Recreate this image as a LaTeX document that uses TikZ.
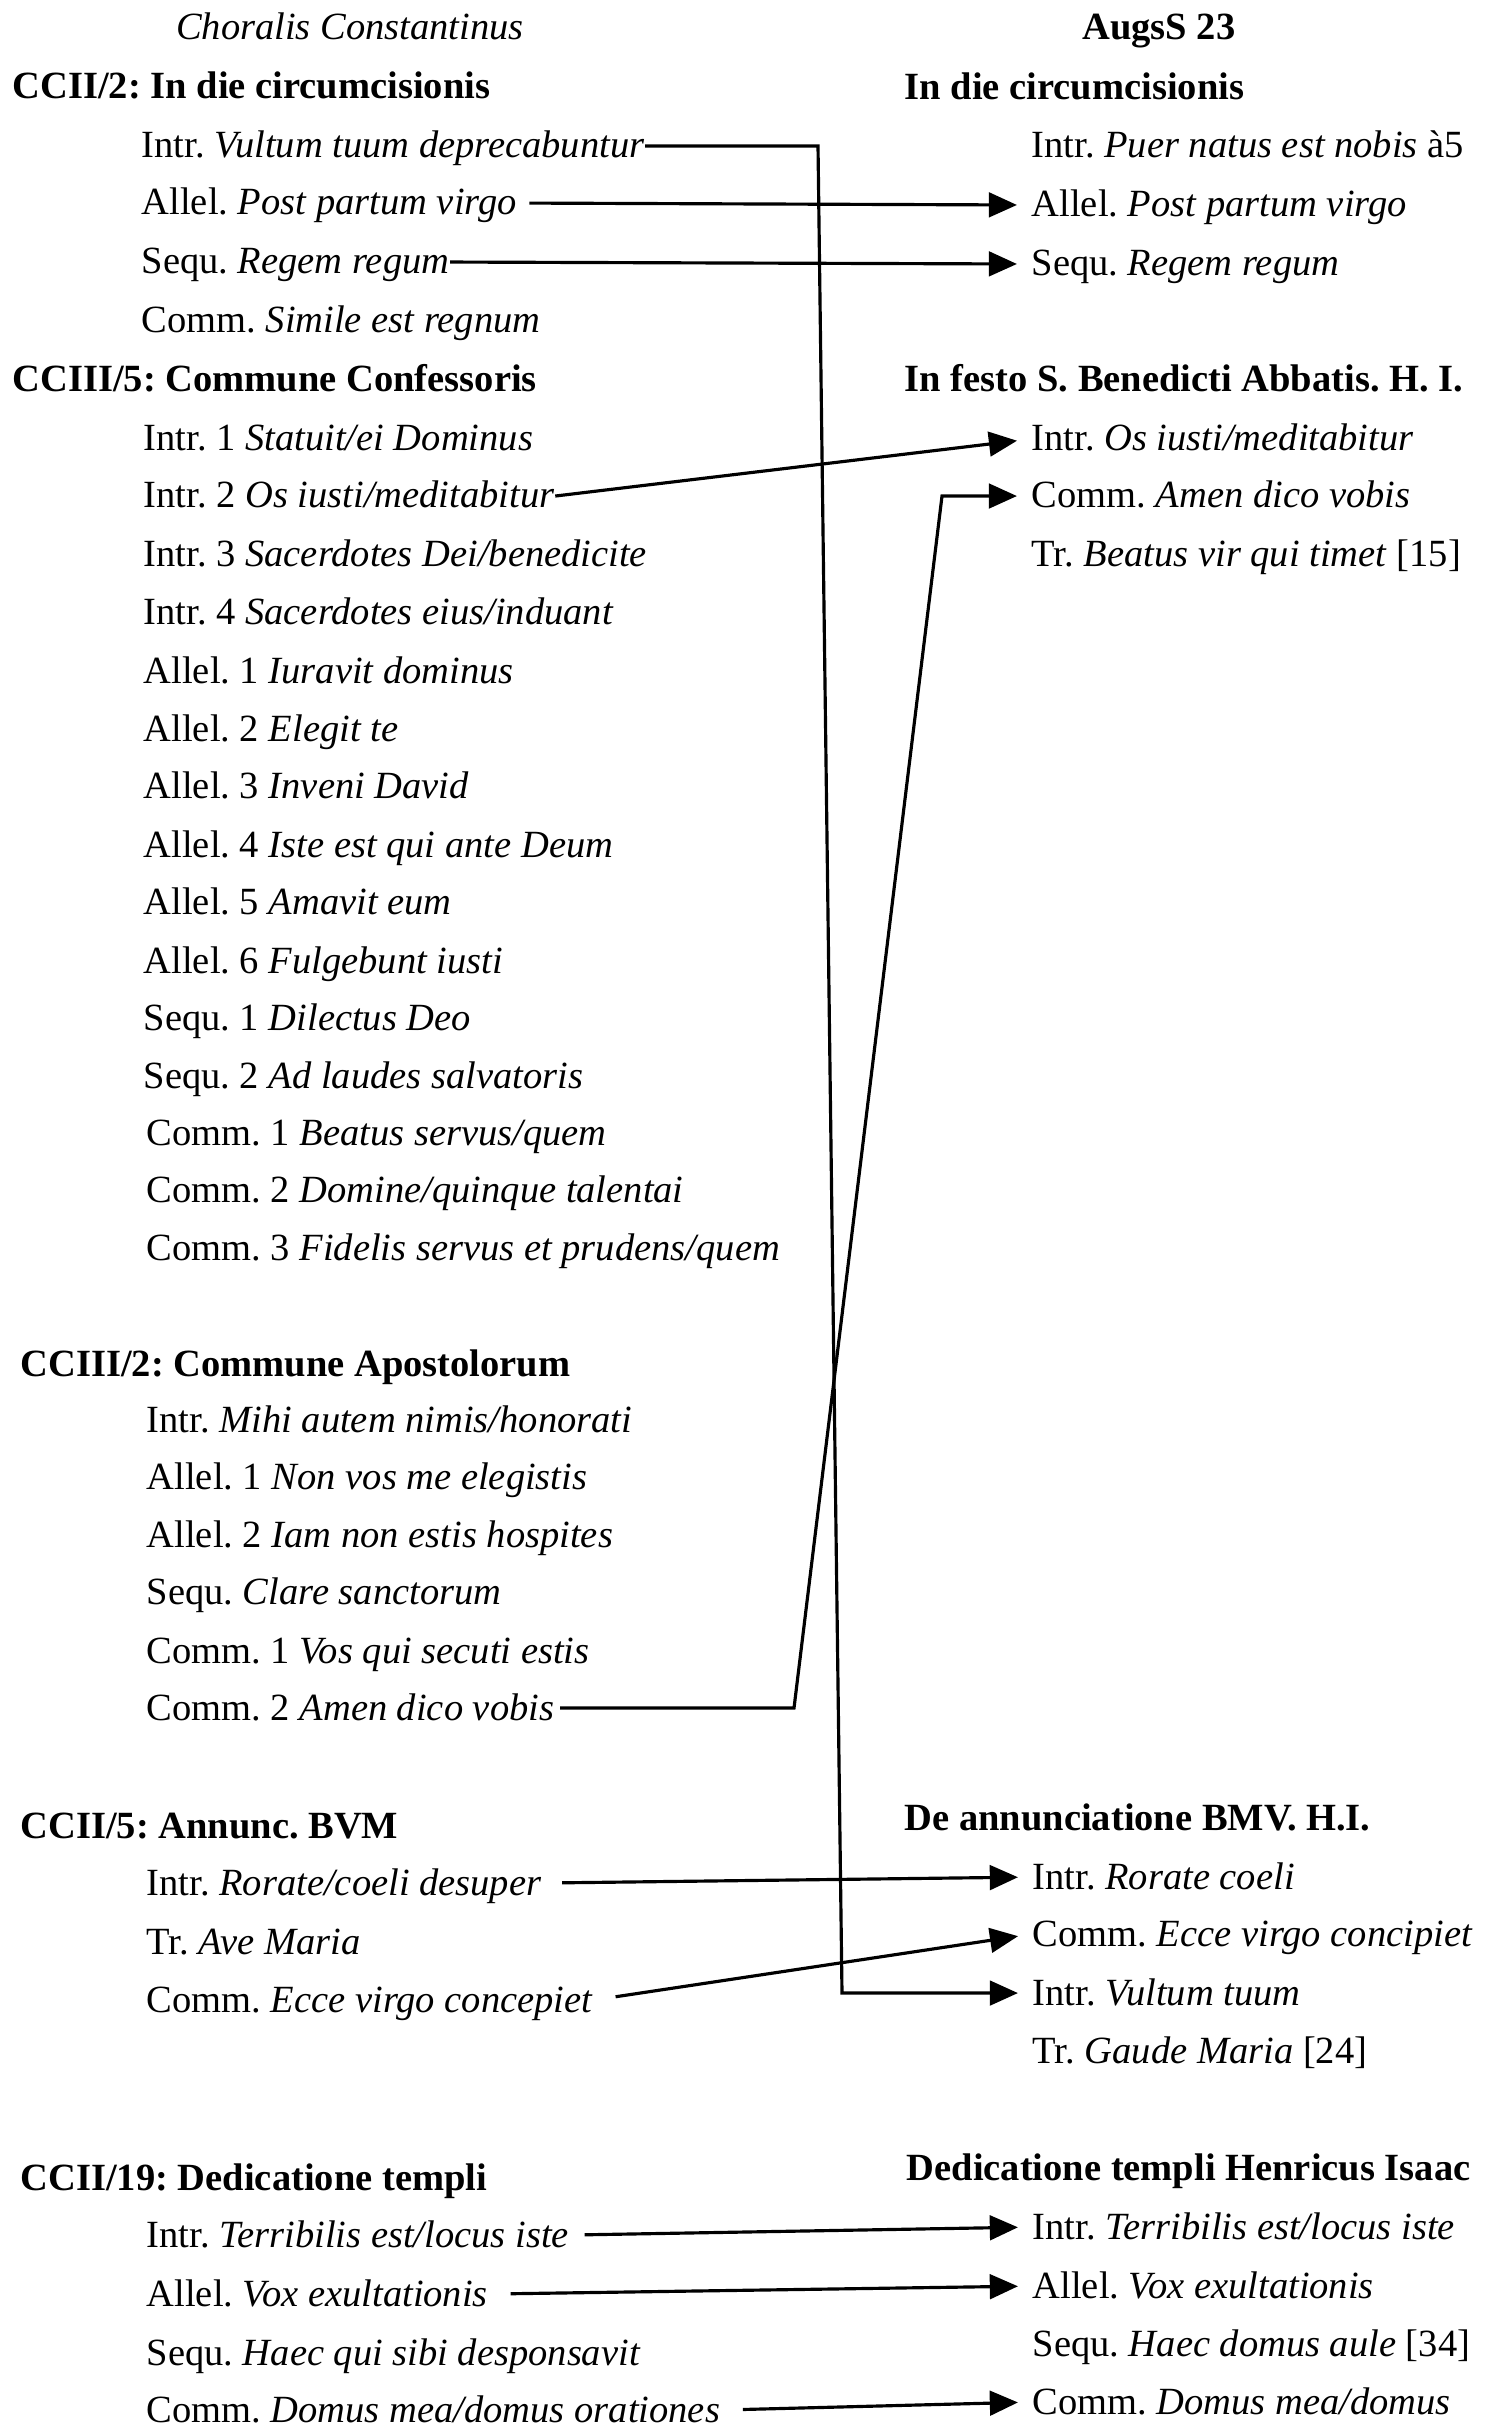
\documentclass[tikz,border=0pt]{standalone}
\usepackage{fontspec}
\setmainfont{Liberation Serif}
\usetikzlibrary{arrows.meta, positioning, calc}
\frenchspacing

\begin{document}
\begin{tikzpicture}[x=0.01cm, y=-0.01cm,
    every node/.style={font=\fontsize{10.95pt}{13pt}\selectfont, inner sep=0pt, text height=6.8pt, text depth=0pt, anchor=base west},
    sec/.style={font=\fontsize{10.95pt}{13pt}\selectfont\bfseries},
    link/.style={line width=0.9pt, -{Triangle[length=8pt, width=7pt]}, shorten >=4pt}]
    \useasboundingbox (0,0) rectangle (1488,2431);
    % Column heads
    \node[anchor=base] (lhead) at (350,40) {\textit{Choralis Constantinus}};
    \node[sec, anchor=base] (rhead) at (1159,40) {AugsS 23};
    % CCII/2
    \node[sec] (lsecA) at (12,99) {CCII/2: In die circumcisionis};
    \node (la1) at (141,158) {Intr. \textit{Vultum tuum deprecabuntur}};
    \node (la2) at (141,215) {Allel. \textit{Post partum virgo}};
    \node (la3) at (141,274) {Sequ. \textit{Regem regum}};
    \node (la4) at (141,333) {Comm. \textit{Simile est regnum}};
    % CCIII/5
    \node[sec] (lsecB) at (12,392) {CCIII/5: Commune Confessoris};
    \node (lb1) at (143,451) {Intr. 1 \textit{Statuit/ei Dominus}};
    \node (lb2) at (143,508) {Intr. 2 \textit{Os iusti/meditabitur}};
    \node (lb3) at (143,567) {Intr. 3 \textit{Sacerdotes Dei/benedicite}};
    \node (lb4) at (143,624) {Intr. 4 \textit{Sacerdotes eius/induant}};
    \node (lb5) at (143,683) {Allel. 1 \textit{Iuravit dominus}};
    \node (lb6) at (143,741) {Allel. 2 \textit{Elegit te}};
    \node (lb7) at (143,798) {Allel. 3 \textit{Inveni David}};
    \node (lb8) at (143,857) {Allel. 4 \textit{Iste est qui ante Deum}};
    \node (lb9) at (143,914) {Allel. 5 \textit{Amavit eum}};
    \node (lb10) at (143,973) {Allel. 6 \textit{Fulgebunt iusti}};
    \node (lb11) at (143,1030) {Sequ. 1 \textit{Dilectus Deo}};
    \node (lb12) at (143,1088) {Sequ. 2 \textit{Ad laudes salvatoris}};
    \node (lb13) at (146,1145) {Comm. 1 \textit{Beatus servus/quem}};
    \node (lb14) at (146,1202) {Comm. 2 \textit{Domine/quinque talentai}};
    \node (lb15) at (146,1260) {Comm. 3 \textit{Fidelis servus et prudens/quem}};
    % CCIII/2
    \node[sec] (lsecC) at (20,1376) {CCIII/2: Commune Apostolorum};
    \node (lc1) at (146,1432) {Intr. \textit{Mihi autem nimis/honorati}};
    \node (lc2) at (146,1489) {Allel. 1 \textit{Non vos me elegistis}};
    \node (lc3) at (146,1547) {Allel. 2 \textit{Iam non estis hospites}};
    \node (lc4) at (146,1604) {Sequ. \textit{Clare sanctorum}};
    \node (lc5) at (146,1663) {Comm. 1 \textit{Vos qui secuti estis}};
    \node (lc6) at (146,1720) {Comm. 2 \textit{Amen dico vobis}};
    % CCII/5
    \node[sec] (lsecD) at (20,1838) {CCII/5: Annunc. BVM};
    \node (ld1) at (146,1895) {Intr. \textit{Rorate/coeli desuper}};
    \node (ld2) at (146,1954) {Tr. \textit{Ave Maria}};
    \node (ld3) at (146,2012) {Comm. \textit{Ecce virgo concepiet}};
    % CCII/19
    \node[sec] (lsecE) at (20,2190) {CCII/19: Dedicatione templi};
    \node (le1) at (146,2247) {Intr. \textit{Terribilis est/locus iste}};
    \node (le2) at (146,2306) {Allel. \textit{Vox exultationis}};
    \node (le3) at (146,2365) {Sequ. \textit{Haec qui sibi desponsavit}};
    \node (le4) at (146,2422) {Comm. \textit{Domus mea/domus orationes}};
    % AugsS 23
    \node[sec] (rsecA) at (904,100) {In die circumcisionis};
    \node (ra1) at (1031,158) {Intr. \textit{Puer natus est nobis} à5};
    \node (ra2) at (1031,217) {Allel. \textit{Post partum virgo}};
    \node (ra3) at (1031,276) {Sequ. \textit{Regem regum}};
    \node[sec] (rsecB) at (904,392) {In festo S. Benedicti Abbatis. H. I.};
    \node (rb1) at (1031,451) {Intr. \textit{Os iusti/meditabitur}};
    \node (rb2) at (1031,508) {Comm. \textit{Amen dico vobis}};
    \node (rb3) at (1031,567) {Tr. \textit{Beatus vir qui timet} [15]};
    \node[sec] (rsecD) at (904,1830) {De annunciatione BMV. H.I.};
    \node (rd1) at (1032,1889) {Intr. \textit{Rorate coeli}};
    \node (rd2) at (1032,1946) {Comm. \textit{Ecce virgo concipiet}};
    \node (rd3) at (1032,2005) {Intr. \textit{Vultum tuum}};
    \node (rd4) at (1032,2063) {Tr. \textit{Gaude Maria} [24]};
    \node[sec] (rsecE) at (906,2180) {Dedicatione templi Henricus Isaac};
    \node (re1) at (1032,2239) {Intr. \textit{Terribilis est/locus iste}};
    \node (re2) at (1032,2298) {Allel. \textit{Vox exultationis}};
    \node (re3) at (1032,2356) {Sequ. \textit{Haec domus aule} [34]};
    \node (re4) at (1032,2414) {Comm. \textit{Domus mea/domus}};
    % Bends
    \coordinate (bendtop) at (818,0);
    \coordinate (bendbot) at (842,0);
    \coordinate (bendlow) at (794,0);
    \coordinate (bendhigh) at (942,0);
    % Connectors
    \draw[link] (la1.east) -- (la1.east -| bendtop) -- (rd3.west -| bendbot) -- (rd3.west);
    \draw[link, shorten <=3.4pt] (la2.east) -- (ra2.west);
    \draw[link] (la3.east) -- (ra3.west);
    \draw[link] (lb2.east) -- (rb1.west);
    \draw[link, shorten <=1.5pt] (lc6.east) -- (lc6.east -| bendlow) -- (rb2.west -| bendhigh) -- (rb2.west);
    \draw[link, shorten <=5.7pt] (ld1.east) -- (rd1.west);
    \draw[link, shorten <=6.3pt] (ld3.east) -- (rd2.west);
    \draw[link, shorten <=4.3pt] (le1.east) -- (re1.west);
    \draw[link, shorten <=6.3pt] (le2.east) -- (re2.west);
    \draw[link, shorten <=6.3pt] (le4.east) -- (re4.west);
\end{tikzpicture}
\end{document}
